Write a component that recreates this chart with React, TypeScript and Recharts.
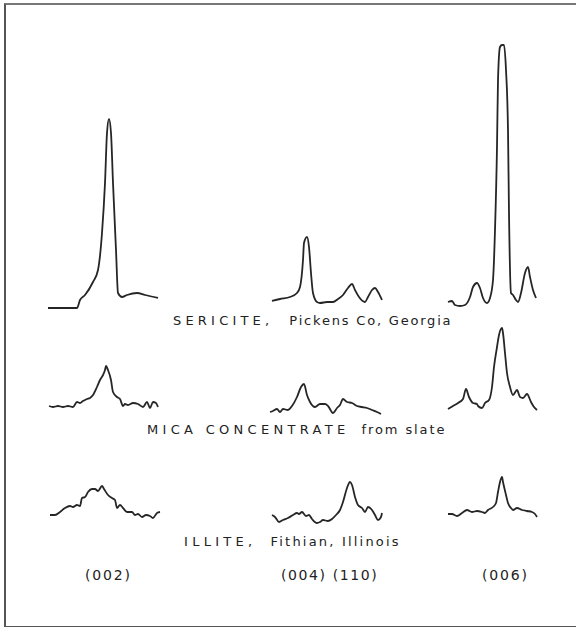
import React from "react";
import { LineChart, Line, XAxis, YAxis } from "recharts";

// X-ray diffraction traces: [scan position, intensity] (arbitrary units)
const sericite002: number[][] = [[8,2],[37,2],[40,10],[45,15],[53,28],[58,40],[62,77],[65,127],[67,177],[69,191],[71,177],[73,127],[76,60],[78,17],[82,13],[87,15],[97,17],[105,15],[118,12]];
const sericite004: number[][] = [[7,9],[15,11],[25,13],[32,17],[35,23],[38,50],[39,67],[42,73],[44,63],[46,37],[48,17],[52,8],[55,7],[62,8],[68,8],[73,11],[78,15],[83,22],[87,26],[90,20],[94,13],[100,8],[103,13],[107,20],[110,22],[113,18],[117,10]];
const sericite006: number[][] = [[8,8],[12,9],[15,5],[20,4],[25,5],[30,13],[33,23],[37,27],[40,22],[43,12],[47,7],[50,12],[53,30],[55,80],[57,163],[58,230],[60,263],[62,265],[64,265],[66,240],[68,180],[69,97],[71,17],[73,15],[76,10],[78,8],[81,17],[85,37],[88,43],[90,33],[93,20],[96,12]];

const mica002: number[][] = [[9,14],[13,13],[18,14],[23,13],[28,14],[33,13],[37,18],[40,17],[43,19],[47,21],[50,22],[53,25],[57,33],[60,40],[63,45],[65,50],[66,54],[68,50],[71,40],[73,28],[77,23],[80,21],[83,14],[85,16],[88,15],[93,17],[98,16],[103,13],[107,18],[110,12],[113,18],[116,17],[118,13]];
const mica004: number[][] = [[5,8],[8,9],[12,11],[15,8],[18,11],[23,10],[27,14],[32,23],[36,33],[39,36],[42,25],[45,18],[50,13],[55,16],[60,16],[63,14],[68,7],[72,12],[75,15],[78,21],[82,18],[87,17],[92,14],[97,13],[102,12],[107,10],[112,8],[116,6]];
const mica006: number[][] = [[8,11],[13,14],[18,17],[23,21],[26,31],[29,23],[33,17],[37,16],[38,14],[42,12],[45,17],[49,20],[52,33],[54,53],[57,73],[59,85],[62,92],[63,87],[65,67],[67,47],[70,33],[73,25],[77,30],[80,23],[83,22],[87,26],[91,18],[94,13],[97,10]];

const illite002: number[][] = [[10,10],[15,10],[20,13],[25,17],[30,19],[33,18],[37,20],[40,19],[42,27],[45,28],[48,33],[52,36],[55,36],[58,34],[62,39],[64,36],[68,30],[72,27],[75,25],[77,17],[80,20],[83,17],[87,13],[92,13],[95,10],[98,11],[102,8],[106,10],[110,9],[113,7],[117,12],[120,13]];
const illite004: number[][] = [[7,10],[10,8],[14,3],[18,5],[23,7],[28,10],[32,12],[34,11],[37,13],[41,9],[44,10],[47,6],[52,2],[55,3],[58,5],[63,4],[67,6],[71,10],[75,15],[78,23],[82,37],[85,43],[87,40],[90,28],[93,20],[97,17],[100,13],[103,18],[107,15],[110,10],[113,5],[116,8],[117,12]];
const illite006: number[][] = [[8,11],[12,11],[17,9],[22,12],[27,15],[32,13],[37,14],[42,13],[45,12],[48,15],[53,18],[56,22],[58,33],[60,43],[62,48],[63,43],[66,30],[68,22],[71,17],[73,15],[77,17],[82,15],[87,14],[92,13],[95,11],[97,8]];

const reflections = ["(002)", "(004) (110)", "(006)"];

const colLeft = [40, 265, 440];
const colWidth = [130, 125, 105];
const rowTop = [30, 320, 465];
const rowHeight = [280, 100, 60];

const rows = [
  [sericite002, sericite004, sericite006],
  [mica002, mica004, mica006],
  [illite002, illite004, illite006],
];

const INK = "#262626";

function Trace({ data, left, top, width, height }: { data: number[][]; left: number; top: number; width: number; height: number }) {
  const pts = data.map(([x, y]) => ({ x, y }));
  return (
    <div style={{ position: "absolute", left, top, width, height }}>
      <LineChart width={width} height={height} data={pts} margin={{ top: 0, right: 0, bottom: 0, left: 0 }}>
        <XAxis type="number" dataKey="x" domain={[0, width]} hide allowDataOverflow />
        <YAxis type="number" domain={[0, height]} hide allowDataOverflow />
        <Line type="monotone" dataKey="y" stroke={INK} strokeWidth={1.8} dot={false} isAnimationActive={false} />
      </LineChart>
    </div>
  );
}

const textBase: React.CSSProperties = {
  position: "absolute",
  whiteSpace: "nowrap",
  fontFamily: "'DejaVu Sans', sans-serif",
  fontSize: 13,
  lineHeight: "14px",
  color: "#222",
};

export default function App() {
  return (
    <div style={{ position: "absolute", left: 0, top: 0, width: 576, height: 627, overflow: "hidden", background: "#fff" }}>
      <div style={{ position: "absolute", left: 4, top: 3, width: 600, height: 621, borderLeft: "2px solid #555", borderTop: "2px solid #777", borderBottom: "2px solid #555" }} />
      {rows.map((row, r) =>
        row.map((d, c) => (
          <Trace key={`${r}-${c}`} data={d} left={colLeft[c]} top={rowTop[r]} width={colWidth[c]} height={rowHeight[r]} />
        ))
      )}
      <div style={{ ...textBase, left: 173, top: 314 }}>
        <span style={{ letterSpacing: 4.2 }}>SERICITE,</span>
        <span style={{ letterSpacing: 1.8, marginLeft: 16 }}>Pickens Co, Georgia</span>
      </div>
      <div style={{ ...textBase, left: 147, top: 423 }}>
        <span style={{ letterSpacing: 4.3 }}>MICA CONCENTRATE</span>
        <span style={{ letterSpacing: 1.9, marginLeft: 12 }}>from slate</span>
      </div>
      <div style={{ ...textBase, left: 184, top: 535 }}>
        <span style={{ letterSpacing: 4.3 }}>ILLITE,</span>
        <span style={{ letterSpacing: 2.2, marginLeft: 14 }}>Fithian, Illinois</span>
      </div>
      <div style={{ ...textBase, fontSize: 14, left: 85, top: 568, letterSpacing: 1.8 }}>{reflections[0]}</div>
      <div style={{ ...textBase, fontSize: 14, left: 281, top: 568, letterSpacing: 1.6 }}>{reflections[1]}</div>
      <div style={{ ...textBase, fontSize: 14, left: 482, top: 568, letterSpacing: 1.8 }}>{reflections[2]}</div>
    </div>
  );
}
